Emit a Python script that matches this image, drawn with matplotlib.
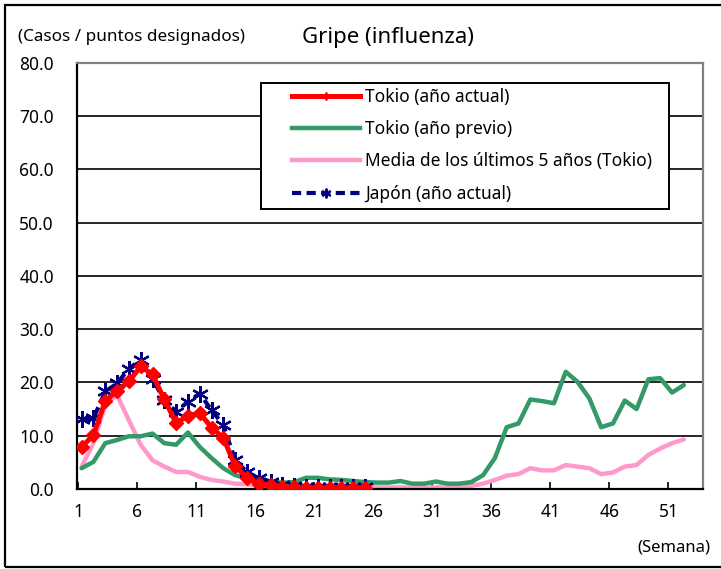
import matplotlib
matplotlib.use("Agg")
import matplotlib.pyplot as plt
from matplotlib.patches import Rectangle
from matplotlib.lines import Line2D

plt.rcParams['font.family'] = ['Noto Sans', 'DejaVu Sans']

weeks = list(range(1, 53))

tokyo_current = [7.9, 10.1, 16.5, 18.4, 20.2, 23.0, 21.5, 16.8, 12.4, 13.7,
                 14.3, 11.5, 9.6, 4.3, 2.1, 0.9, 0.8, 0.4, 0.3, 0.2,
                 0.2, 0.2, 0.2, 0.2, 0.2]

tokyo_prev = [3.9, 5.1, 8.6, 9.2, 9.9, 9.9, 10.4, 8.6, 8.3, 10.6,
              7.9, 5.8, 3.9, 2.6, 2.0, 1.7, 1.4, 1.2, 1.3, 2.1,
              2.1, 1.8, 1.7, 1.5, 1.3, 1.2, 1.2, 1.5, 1.0, 1.0,
              1.4, 1.0, 1.0, 1.3, 2.6, 5.8, 11.6, 12.3, 16.8, 16.5,
              16.1, 22.0, 20.1, 17.0, 11.6, 12.3, 16.6, 15.0, 20.6, 20.8,
              18.1, 19.5]

avg5 = [4.2, 8.6, 15.8, 17.6, 12.9, 8.3, 5.4, 4.2, 3.2, 3.2,
        2.3, 1.7, 1.4, 1.0, 0.9, 0.7, 0.5, 0.4, 0.3, 0.3,
        0.3, 0.3, 0.3, 0.3, 0.3, 0.3, 0.3, 0.3, 0.3, 0.3,
        0.3, 0.3, 0.4, 0.6, 1.0, 1.7, 2.5, 2.8, 3.9, 3.5,
        3.5, 4.5, 4.2, 3.9, 2.8, 3.1, 4.2, 4.5, 6.4, 7.6,
        8.6, 9.3]

japan_current = [13.1, 13.3, 18.3, 19.8, 22.6, 24.2, 20.6, 16.7, 14.5, 16.4,
                 17.9, 14.8, 12.0, 5.4, 3.2, 2.0, 1.4, 0.8, 0.5, 0.4,
                 0.3, 0.3, 0.3, 0.3, 0.3]

yticks = [0, 10, 20, 30, 40, 50, 60, 70, 80]
xtick_weeks = [1, 6, 11, 16, 21, 26, 31, 36, 41, 46, 51]

labels = ["Tokio (año actual)", "Tokio (año previo)",
          "Media de los últimos 5 años (Tokio)", "Japón (año actual)"]

W, H = 721, 569
fig = plt.figure(figsize=(W / 100, H / 100), dpi=100)
ax = fig.add_axes([76.7 / W, 1 - 489 / H, (702.7 - 76.7) / W, (489 - 62.7) / H])

red = '#ff0000'
green = '#339966'
pink = '#ff99cc'
navy = '#000080'

ax.plot(weeks[:len(avg5)], avg5, color=pink, lw=3.2, solid_capstyle='round', zorder=2)
ax.plot(weeks[:len(tokyo_prev)], tokyo_prev, color=green, lw=3.2, solid_capstyle='round', zorder=3)
ax.plot(weeks[:len(japan_current)], japan_current, color=navy, lw=3, ls=(0, (2.2, 1.3)),
        marker=(6, 2, 0), ms=12, mew=1.6, zorder=4)
ax.plot(weeks[:len(tokyo_current)], tokyo_current, color=red, lw=3.6,
        marker='D', ms=7.5, zorder=5)

ax.set_xlim(0.58, 53.6)
ax.set_ylim(0, 80)
ax.set_yticks(yticks)
ax.set_yticklabels([f"{v:.1f}" for v in yticks], fontsize=12.5)
ax.set_xticks([w - 0.3 for w in xtick_weeks])
ax.set_xticklabels([str(w) for w in xtick_weeks], fontsize=12.5)
ax.yaxis.grid(True, color='black', lw=1.2)
ax.set_axisbelow(True)
ax.tick_params(axis='y', length=0, pad=16.5)
ax.tick_params(axis='x', direction='in', length=5, width=1.2, pad=10)
for side in ['left', 'bottom']:
    ax.spines[side].set_linewidth(1.6)
    ax.spines[side].set_color('black')
for side in ['top', 'right']:
    ax.spines[side].set_linewidth(1.6)
    ax.spines[side].set_color('#808080')

# legend box
ax.add_patch(Rectangle((261 / W, 1 - 209 / H), (669 - 261) / W, (209 - 83) / H,
                       transform=fig.transFigure, facecolor='white', edgecolor='black',
                       lw=1.4, zorder=9))

handles = [
    Line2D([], [], color=red, lw=3.6, marker='d', ms=4),
    Line2D([], [], color=green, lw=3.2),
    Line2D([], [], color=pink, lw=3.2),
    Line2D([], [], color=navy, lw=3, ls=(0, (2.2, 1.3)), marker=(6, 2, 0), ms=7, mew=1.4),
]
leg = fig.legend(handles, labels, loc='upper left',
                 bbox_to_anchor=(292 / W, 1 - 88 / H), bbox_transform=fig.transFigure,
                 fontsize=12.5, frameon=False,
                 handlelength=3.9, handletextpad=0.3, borderpad=0, labelspacing=0.82,
                 borderaxespad=0)
leg.set_zorder(10)

fig.text(18 / W, 1 - 37 / H, "(Casos / puntos designados)", fontsize=12.3, va='center', ha='left')
fig.text(388 / W, 1 - 38 / H, "Gripe (influenza)", fontsize=16, va='center', ha='center')
fig.text(710 / W, 1 - 548 / H, "(Semana)", fontsize=12, va='center', ha='right')

fig.patches.append(Rectangle((4.5 / W, 1 - 566.5 / H), (730 - 4.5) / W, (566.5 - 4.5) / H,
                             transform=fig.transFigure, fill=False, edgecolor='black', lw=1.6))

fig.savefig("out.png", dpi=100)
